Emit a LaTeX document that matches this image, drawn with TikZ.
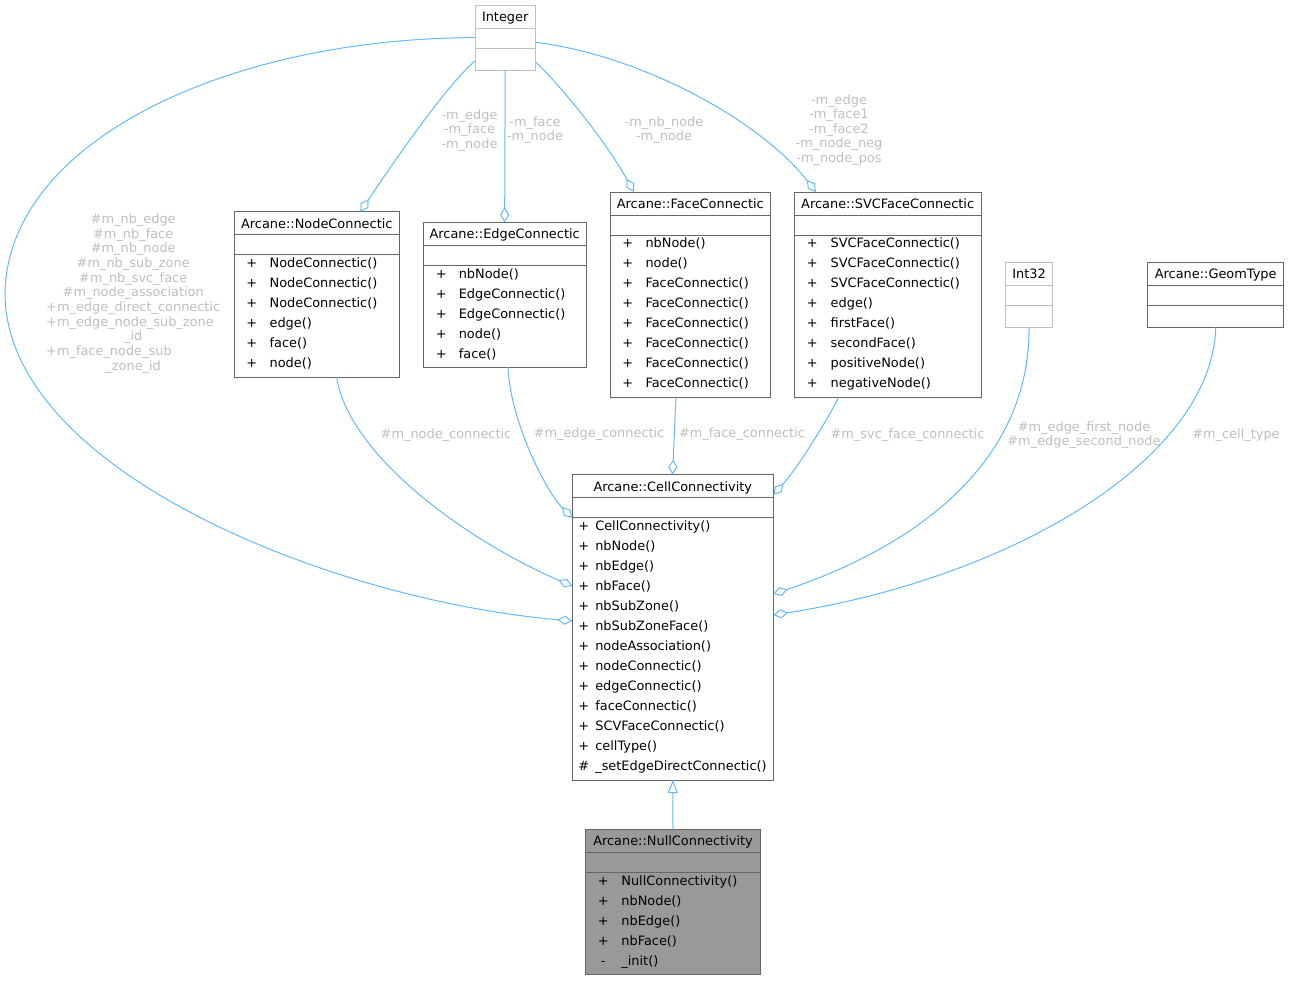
\documentclass[tikz,border=0pt]{standalone}
\usepackage{fontspec}
\setmainfont{DejaVu Sans}
\usepackage{array}
\usetikzlibrary{arrows.meta,calc}
\definecolor{edgeblue}{HTML}{63B8FF}
\definecolor{lblgrey}{HTML}{BEBEBE}
\definecolor{boxgrey}{HTML}{666666}
\definecolor{lightbox}{HTML}{BFBFBF}
\definecolor{nullfill}{HTML}{999999}
\tikzset{
  clstext/.style={inner sep=0pt, outer sep=0pt, text=black, font=\fontsize{12.9}{20}\selectfont},
  elabel/.style={anchor=base, inner sep=0pt, outer sep=0pt, text=lblgrey, font=\fontsize{12.9}{14.65}\selectfont},
  agg/.style={draw=edgeblue, line width=1pt, -{Diamond[open, length=15pt, width=9pt]}},
  inh/.style={draw=edgeblue, line width=1pt, -{Triangle[open, length=13pt, width=10pt]}},
}
% #1 name, #2 border, #3 fill, #4 left, #5 top, #6 right, #7 bottom, #8 title
\newcommand\umlclass[8]{%
  \node[draw=#2, fill=#3, line width=1pt, inner sep=0pt, outer sep=0pt, anchor=north west,
        minimum width={#6-#4}, minimum height={#7-#5}] (#1) at (#4,#5) {};
  \draw[draw=#2, line width=1pt] ($(#1.north west)+(0,23)$) -- ($(#1.north east)+(0,23)$);
  \draw[draw=#2, line width=1pt] ($(#1.north west)+(0,43)$) -- ($(#1.north east)+(0,43)$);
  \node[clstext, anchor=base] (#1-title) at ($(#1.north)+(0,16.5)$) {#8};
}
% #1 name, #2 left pad, #3 gap, #4 rows
\newcommand\umlmembers[4]{%
  \node[clstext, anchor=base west] (#1-members) at ($(#1.north west)+(#2,55.8)$)
    {\begin{tabular}[t]{@{}c@{\hspace{#3pt}}l@{}}#4\end{tabular}};
}
\begin{document}
\begin{tikzpicture}[x=1pt,y=-1pt]
\useasboundingbox (0,0) rectangle (1289,980);

% classes
\umlclass{intg}{lightbox}{white}{475}{5}{535.4}{70.3}{Integer}
\umlclass{nodec}{boxgrey}{white}{234.3}{211.7}{399.3}{377}{Arcane::NodeConnectic}
\umlclass{edgec}{boxgrey}{white}{423.3}{222.3}{586}{367}{Arcane::EdgeConnectic}
\umlclass{facec}{boxgrey}{white}{610.3}{192}{770.3}{397.3}{Arcane::FaceConnectic}
\umlclass{svcc}{boxgrey}{white}{794.3}{192}{981}{397.3}{Arcane::SVCFaceConnectic}
\umlclass{int32}{lightbox}{white}{1005.7}{262}{1052.3}{327.3}{Int32}
\umlclass{geom}{boxgrey}{white}{1147.7}{262}{1283.7}{327.3}{Arcane::GeomType}
\umlclass{cell}{boxgrey}{white}{572.3}{474.7}{773.3}{780}{Arcane::CellConnectivity}
\umlclass{null}{boxgrey}{nullfill}{585.7}{829.3}{760.3}{974}{Arcane::NullConnectivity}

\umlmembers{nodec}{12}{12.5}{+ & NodeConnectic()\\ + & NodeConnectic()\\ + & NodeConnectic()\\ + & edge()\\ + & face()\\ + & node()}
\umlmembers{edgec}{12.5}{12.2}{+ & nbNode()\\ + & EdgeConnectic()\\ + & EdgeConnectic()\\ + & node()\\ + & face()}
\umlmembers{facec}{12}{12.4}{+ & nbNode()\\ + & node()\\ + & FaceConnectic()\\ + & FaceConnectic()\\ + & FaceConnectic()\\ + & FaceConnectic()\\ + & FaceConnectic()\\ + & FaceConnectic()}
\umlmembers{svcc}{12.6}{13}{+ & SVCFaceConnectic()\\ + & SVCFaceConnectic()\\ + & SVCFaceConnectic()\\ + & edge()\\ + & firstFace()\\ + & secondFace()\\ + & positiveNode()\\ + & negativeNode()}
\umlmembers{cell}{6}{6.2}{+ & CellConnectivity()\\ + & nbNode()\\ + & nbEdge()\\ + & nbFace()\\ + & nbSubZone()\\ + & nbSubZoneFace()\\ + & nodeAssociation()\\ + & nodeConnectic()\\ + & edgeConnectic()\\ + & faceConnectic()\\ + & SCVFaceConnectic()\\ + & cellType()\\ \# & \_setEdgeDirectConnectic()}
\umlmembers{null}{12.2}{12.7}{+ & NullConnectivity()\\ + & nbNode()\\ + & nbEdge()\\ + & nbFace()\\ - & \_init()}

% connectors
\draw[agg] (intg.west) .. controls (230,38) and (8,140) .. (5,293) .. controls (5,470) and (330,600) .. (cell.west |- 0,621);
\draw[agg] (intg.west |- 0,61) .. controls (445,86) and (385,175) .. (360.3,0 |- nodec.north);
\draw[agg] (intg.south) -- (edgec.north);
\draw[agg] (intg.east |- 0,61.7) .. controls (560,85) and (605,140) .. (634,0 |- facec.north);
\draw[agg] (intg.east |- 0,42.3) .. controls (640,55) and (760,120) .. (816,0 |- svcc.north);
\draw[agg] (336.5,0 |- nodec.south) .. controls (350,460) and (476,545) .. (cell.west |- 0,586);
\draw[agg] (508,0 |- edgec.south) .. controls (510,420) and (545,490) .. (cell.west |- 0,518);
\draw[agg] (676,0 |- facec.south) -- (672.5,0 |- cell.north);
\draw[agg] (838.6,0 |- svcc.south) .. controls (830,415) and (800,465) .. (cell.east |- 0,495);
\draw[agg] (int32.south) .. controls (1030,460) and (920,545) .. (cell.east |- 0,594);
\draw[agg] (geom.south) .. controls (1212,460) and (1010,578) .. (cell.east |- 0,615);
\draw[inh] (null.north) -- (cell.south);

% labels
\node[elabel] (lab-big) at (133.2,223.5) {\begin{tabular}[t]{@{}c@{}}\#m\_nb\_edge\\ \#m\_nb\_face\\ \#m\_nb\_node\\ \#m\_nb\_sub\_zone\\ \#m\_nb\_svc\_face\\ \#m\_node\_association\\ +m\_edge\_direct\_connectic\\ \rlap{+m\_edge\_node\_sub\_zone}\phantom{+m\_edge\_direct\_connectic}\\ \_id\\ \rlap{+m\_face\_node\_sub}\phantom{+m\_edge\_direct\_connectic}\\ \_zone\_id\end{tabular}};
\node[elabel] (lab-nodec) at (469.5,119.3) {\begin{tabular}[t]{@{}c@{}}-m\_edge\\ -m\_face\\ -m\_node\end{tabular}};
\node[elabel] (lab-edgec) at (535,126.3) {\begin{tabular}[t]{@{}c@{}}-m\_face\\ -m\_node\end{tabular}};
\node[elabel] (lab-facec) at (664,126) {\begin{tabular}[t]{@{}c@{}}-m\_nb\_node\\ -m\_node\end{tabular}};
\node[elabel] (lab-svcc) at (839,104) {\begin{tabular}[t]{@{}c@{}}-m\_edge\\ -m\_face1\\ -m\_face2\\ -m\_node\_neg\\ -m\_node\_pos\end{tabular}};
\node[elabel] (lab-nc) at (446,438) {\#m\_node\_connectic};
\node[elabel] (lab-ec) at (599,437.5) {\#m\_edge\_connectic};
\node[elabel] (lab-fc) at (742,437.5) {\#m\_face\_connectic};
\node[elabel] (lab-sc) at (907.5,438) {\#m\_svc\_face\_connectic};
\node[elabel] (lab-i32) at (1084,431) {\begin{tabular}[t]{@{}c@{}}\#m\_edge\_first\_node\\ \#m\_edge\_second\_node\end{tabular}};
\node[elabel] (lab-gt) at (1236,438) {\#m\_cell\_type};
\end{tikzpicture}
\end{document}
